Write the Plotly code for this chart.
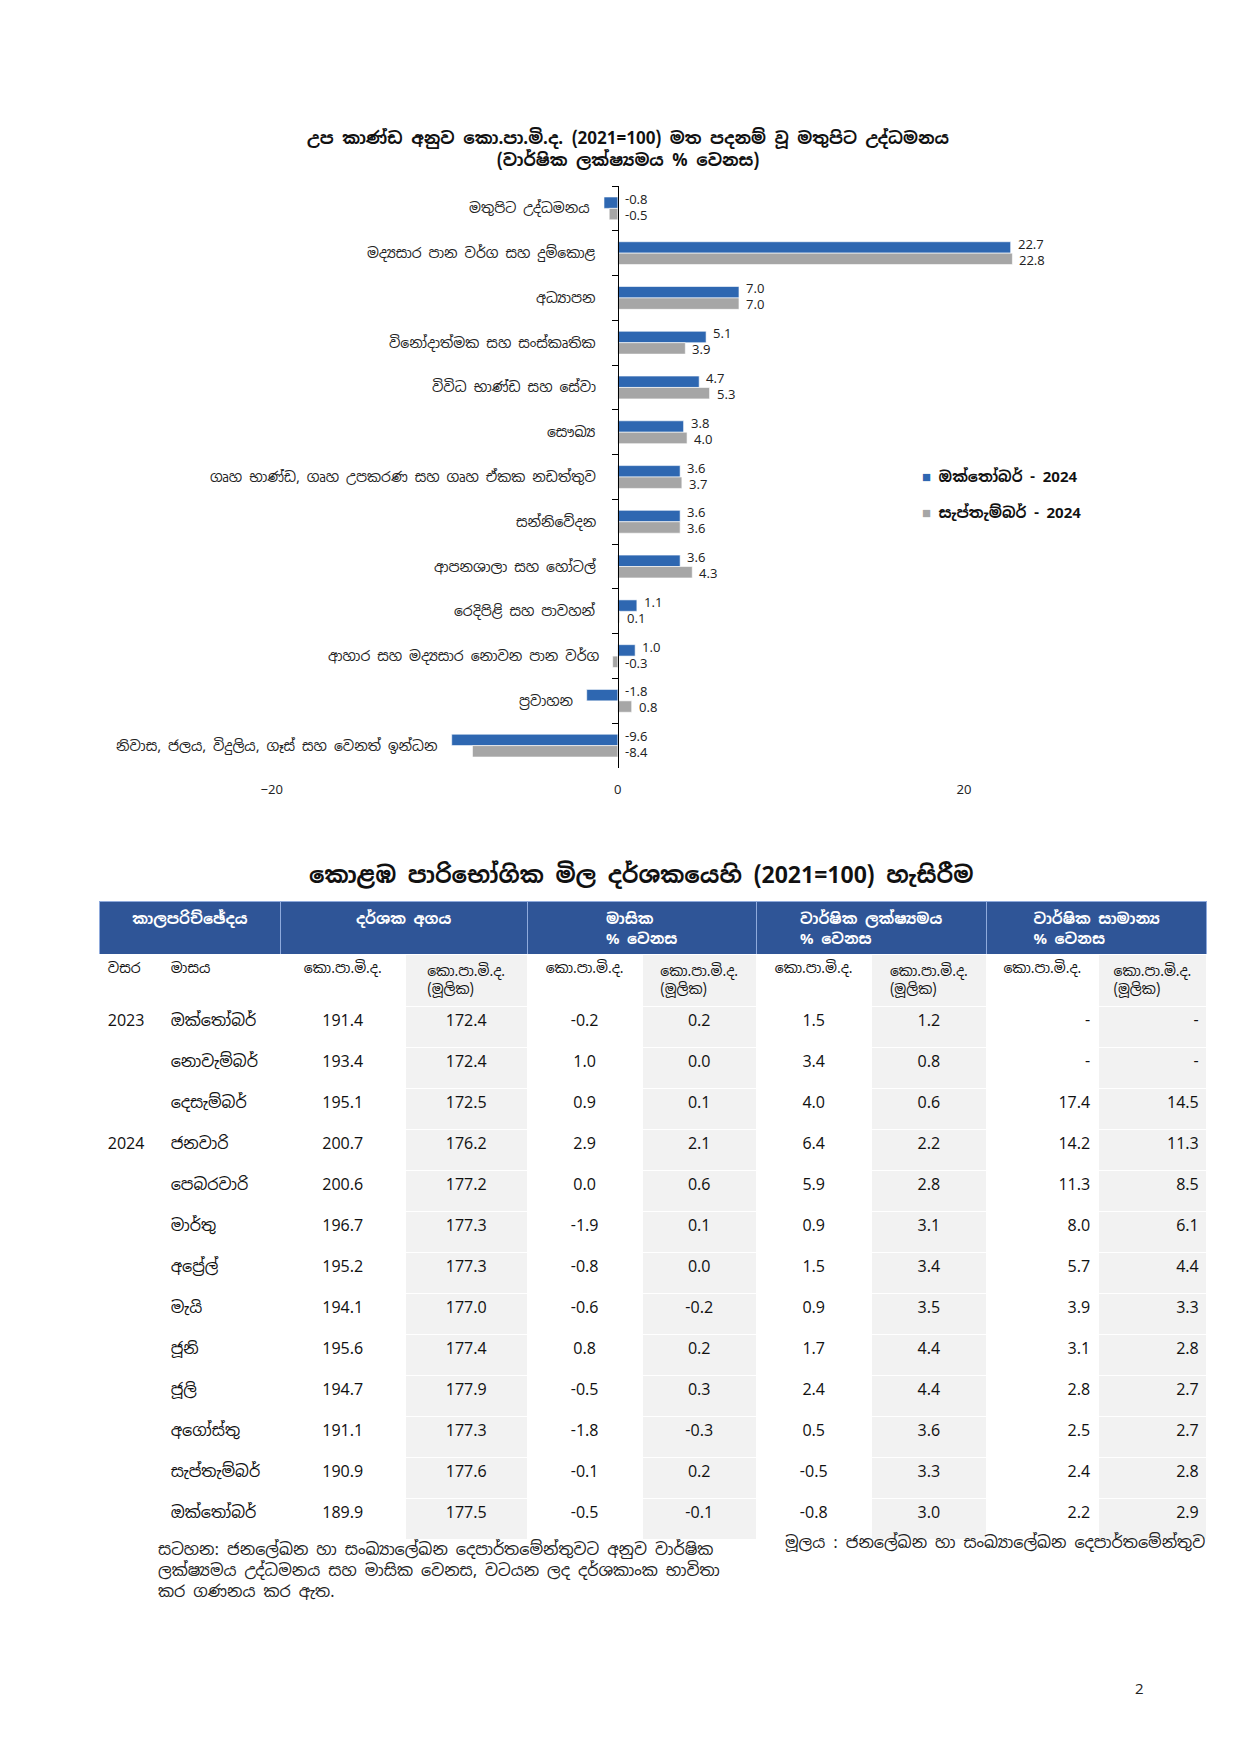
import plotly.graph_objects as go

W, H = 1241, 1754

# ---------------- Chart data ----------------
chart_title = "උප කාණ්ඩ අනුව කො.පා.මි.ද. (2021=100) මත පදනම් වූ මතුපිට උද්ධමනය<br>(වාර්ෂික ලක්ෂ්‍යමය % වෙනස)"
categories = [
    "මතුපිට උද්ධමනය",
    "මද්‍යසාර පාන වර්ග සහ දුම්කොළ",
    "අධ්‍යාපන",
    "විනෝදාත්මක සහ සංස්කෘතික",
    "විවිධ භාණ්ඩ සහ සේවා",
    "සෞඛ්‍ය",
    "ගෘහ භාණ්ඩ, ගෘහ උපකරණ සහ ගෘහ ඒකක නඩත්තුව",
    "සන්නිවේදන",
    "ආපනශාලා සහ හෝටල්",
    "රෙදිපිළි සහ පාවහන්",
    "ආහාර සහ මද්‍යසාර නොවන පාන වර්ග",
    "ප්‍රවාහන",
    "නිවාස, ජලය, විදුලිය, ගෑස් සහ වෙනත් ඉන්ධන",
]
oct_2024 = [-0.8, 22.7, 7.0, 5.1, 4.7, 3.8, 3.6, 3.6, 3.6, 1.1, 1.0, -1.8, -9.6]
sep_2024 = [-0.5, 22.8, 7.0, 3.9, 5.3, 4.0, 3.7, 3.6, 4.3, 0.1, -0.3, 0.8, -8.4]
series_names = ["ඔක්තෝබර් - 2024", "සැප්තැම්බර් - 2024"]
x_ticks = [-20, 0, 20]

# ---------------- Table data ----------------
table_title = "කොළඹ පාරිභෝගික මිල දර්ශකයෙහි (2021=100) හැසිරීම"
group_headers = ["කාලපරිච්ඡේදය", "දර්ශක අගය", "මාසික<br>% වෙනස",
                 "වාර්ෂික ලක්ෂ්‍යමය<br>% වෙනස", "වාර්ෂික සාමාන්‍ය<br>% වෙනස"]
sub_headers = ["වසර", "මාසය"] + ["කො.පා.මි.ද.", "කො.පා.මි.ද.<br>(මූලික)"] * 4
years = ["2023", "", "", "2024", "", "", "", "", "", "", "", "", ""]
months = ["ඔක්තෝබර්", "නොවැම්බර්", "දෙසැම්බර්", "ජනවාරි", "පෙබරවාරි", "මාර්තු",
          "අප්‍රේල්", "මැයි", "ජූනි", "ජූලි", "අගෝස්තු", "සැප්තැම්බර්", "ඔක්තෝබර්"]
ccpi = [191.4, 193.4, 195.1, 200.7, 200.6, 196.7, 195.2, 194.1, 195.6, 194.7, 191.1, 190.9, 189.9]
ccpi_core = [172.4, 172.4, 172.5, 176.2, 177.2, 177.3, 177.3, 177.0, 177.4, 177.9, 177.3, 177.6, 177.5]
mom = [-0.2, 1.0, 0.9, 2.9, 0.0, -1.9, -0.8, -0.6, 0.8, -0.5, -1.8, -0.1, -0.5]
mom_core = [0.2, 0.0, 0.1, 2.1, 0.6, 0.1, 0.0, -0.2, 0.2, 0.3, -0.3, 0.2, -0.1]
yoy = [1.5, 3.4, 4.0, 6.4, 5.9, 0.9, 1.5, 0.9, 1.7, 2.4, 0.5, -0.5, -0.8]
yoy_core = [1.2, 0.8, 0.6, 2.2, 2.8, 3.1, 3.4, 3.5, 4.4, 4.4, 3.6, 3.3, 3.0]
avg = [None, None, 17.4, 14.2, 11.3, 8.0, 5.7, 3.9, 3.1, 2.8, 2.5, 2.4, 2.2]
avg_core = [None, None, 14.5, 11.3, 8.5, 6.1, 4.4, 3.3, 2.8, 2.7, 2.7, 2.8, 2.9]

note_text = ("සටහන: ජනලේඛන හා සංඛ්‍යාලේඛන දෙපාර්තමේන්තුවට අනුව වාර්ෂික<br>"
             "ලක්ෂ්‍යමය උද්ධමනය සහ මාසික වෙනස, වටයන ලද දර්ශකාංක භාවිතා<br>"
             "කර ගණනය කර ඇත.")
source_text = "මූලය : ජනලේඛන හා සංඛ්‍යාලේඛන දෙපාර්තමේන්තුව"
page_number = "2"

# ---------------- Styles ----------------
FONT = "Noto Sans Sinhala, Noto Sans, Open Sans, sans-serif"
BLUE = "#2E67B1"
GRAY = "#A6A6A6"
HDR_BLUE = "#2F5597"
LIGHT = "#F2F2F2"

def px_x(p):
    return p / W

def px_y(p):
    return 1 - p / H

x_range = [-20, 30]
x0_px, x1_px = 255, 1128
y_top_px, y_bot_px = 178, 760
zero_px = x0_px + (0 - x_range[0]) / (x_range[1] - x_range[0]) * (x1_px - x0_px)

fig = go.Figure()
colors = [BLUE, GRAY]
for name, vals, col in [(series_names[0], oct_2024, BLUE), (series_names[1], sep_2024, GRAY)]:
    fig.add_trace(go.Bar(
        y=categories, x=vals, orientation="h", name=name,
        marker=dict(color=col, line=dict(color="white", width=0.6)),
        hoverinfo="x+y", showlegend=False,
    ))

fig.update_layout(
    width=W, height=H, margin=dict(l=0, r=0, t=0, b=0),
    paper_bgcolor="white", plot_bgcolor="white",
    barmode="group", bargap=0.49, bargroupgap=0,
    font=dict(family=FONT, size=14, color="#222"),
    showlegend=False,
    xaxis=dict(domain=[px_x(x0_px), px_x(x1_px)], range=x_range, tickvals=x_ticks,
               showgrid=False, zeroline=False, showline=False, ticks="",
               tickfont=dict(size=13, color="#222"), ticklabelstandoff=12,
               fixedrange=True),
    yaxis=dict(domain=[px_y(y_bot_px), px_y(y_top_px)], autorange="reversed",
               anchor="free", position=px_x(zero_px), showticklabels=False,
               ticks="outside", tickson="boundaries", ticklen=6, tickcolor="black",
               showline=True, linecolor="black", linewidth=1, showgrid=False,
               fixedrange=True),
)

# legend (drawn as text with coloured square markers)
for i, (name, col) in enumerate(zip(series_names, colors)):
    fig.add_annotation(
        text=f"<span style='color:{col}'>■</span> <b>{name}</b>",
        x=px_x(909), y=px_y(468 + 37 * i), xref="paper", yref="paper",
        showarrow=False, xanchor="left", yanchor="middle",
        font=dict(size=15, color="#111"))

# chart title
fig.add_annotation(text="<b>" + chart_title + "</b>", x=px_x(614), y=px_y(165),
                   xref="paper", yref="paper", showarrow=False, yanchor="bottom",
                   font=dict(size=17, color="#111"), align="center")

# category labels
for cat, a, b in zip(categories, oct_2024, sep_2024):
    m = min(0, a, b)
    fig.add_annotation(text=cat, x=m, y=cat, xref="x", yref="y", showarrow=False,
                       xanchor="right", xshift=(-20 if m >= 0 else -12),
                       font=dict(size=14, color="#222"))

# data labels
for cat, a, b in zip(categories, oct_2024, sep_2024):
    fig.add_annotation(text=f"{a:.1f}", x=max(0, a), y=cat, xref="x", yref="y",
                       showarrow=False, xanchor="left", xshift=5, yshift=9,
                       font=dict(size=13, color="#222"))
    fig.add_annotation(text=f"{b:.1f}", x=max(0, b), y=cat, xref="x", yref="y",
                       showarrow=False, xanchor="left", xshift=5, yshift=-7,
                       font=dict(size=13, color="#222"))

# ---------------- Table ----------------
col_w = [63.5, 118.6, 126.2, 122.9, 116.2, 115.0, 116.1, 116.3, 112.7, 109.6]
grp_w = [col_w[0] + col_w[1], col_w[2] + col_w[3], col_w[4] + col_w[5],
         col_w[6] + col_w[7], col_w[8] + col_w[9]]
tbl_x = [px_x(81.5), px_x(81.5 + sum(col_w))]

fig.add_annotation(text="<b>" + table_title + "</b>", x=px_x(628), y=px_y(867),
                   xref="paper", yref="paper", showarrow=False,
                   font=dict(size=23, color="#111"))

# group header row (blue); its domain reaches under the next table for safety
fig.add_trace(go.Table(
    domain=dict(x=tbl_x, y=[px_y(1010), px_y(893)]),
    columnwidth=grp_w,
    header=dict(values=["<b>" + g + "</b>" for g in group_headers],
                fill_color=HDR_BLUE, line=dict(color="#8FAADC", width=1),
                font=dict(color="white", size=15, family=FONT),
                align="center", height=51),
    cells=dict(values=[[""] for _ in group_headers], height=1,
               fill_color="white", line=dict(color="white", width=0)),
))

def fmt(v):
    return "-" if v is None else f"{v:.1f}"

cols = [years, months] + [[fmt(v) for v in s] for s in
                          [ccpi, ccpi_core, mom, mom_core, yoy, yoy_core, avg, avg_core]]
fills = ["white", "white"] + ["white", LIGHT] * 4

fig.add_trace(go.Table(
    domain=dict(x=tbl_x, y=[px_y(1545), px_y(946)]),
    columnwidth=col_w,
    header=dict(values=sub_headers, fill_color=fills, line=dict(color="white", width=1),
                font=dict(color="#111", size=14, family=FONT),
                align=["left", "left"] + ["center"] * 8, height=44),
    cells=dict(values=cols, fill_color=fills, line=dict(color="white", width=1),
               font=dict(color="#111", size=16, family=FONT),
               align=["left", "left", "center", "center", "center", "center",
                      "center", "center", "right", "right"], height=41),
))

fig.add_annotation(text=note_text, x=px_x(138), y=px_y(1529), xref="paper", yref="paper",
                   showarrow=False, xanchor="left", yanchor="top", align="left",
                   font=dict(size=16, color="#222"))
fig.add_annotation(text=source_text, x=px_x(1199), y=px_y(1522), xref="paper", yref="paper",
                   showarrow=False, xanchor="right", yanchor="top", align="right",
                   font=dict(size=16, color="#222"))
fig.add_annotation(text=page_number, x=px_x(1137), y=px_y(1692), xref="paper", yref="paper",
                   showarrow=False, font=dict(size=15, color="#222"))

fig.write_html("out.html")
